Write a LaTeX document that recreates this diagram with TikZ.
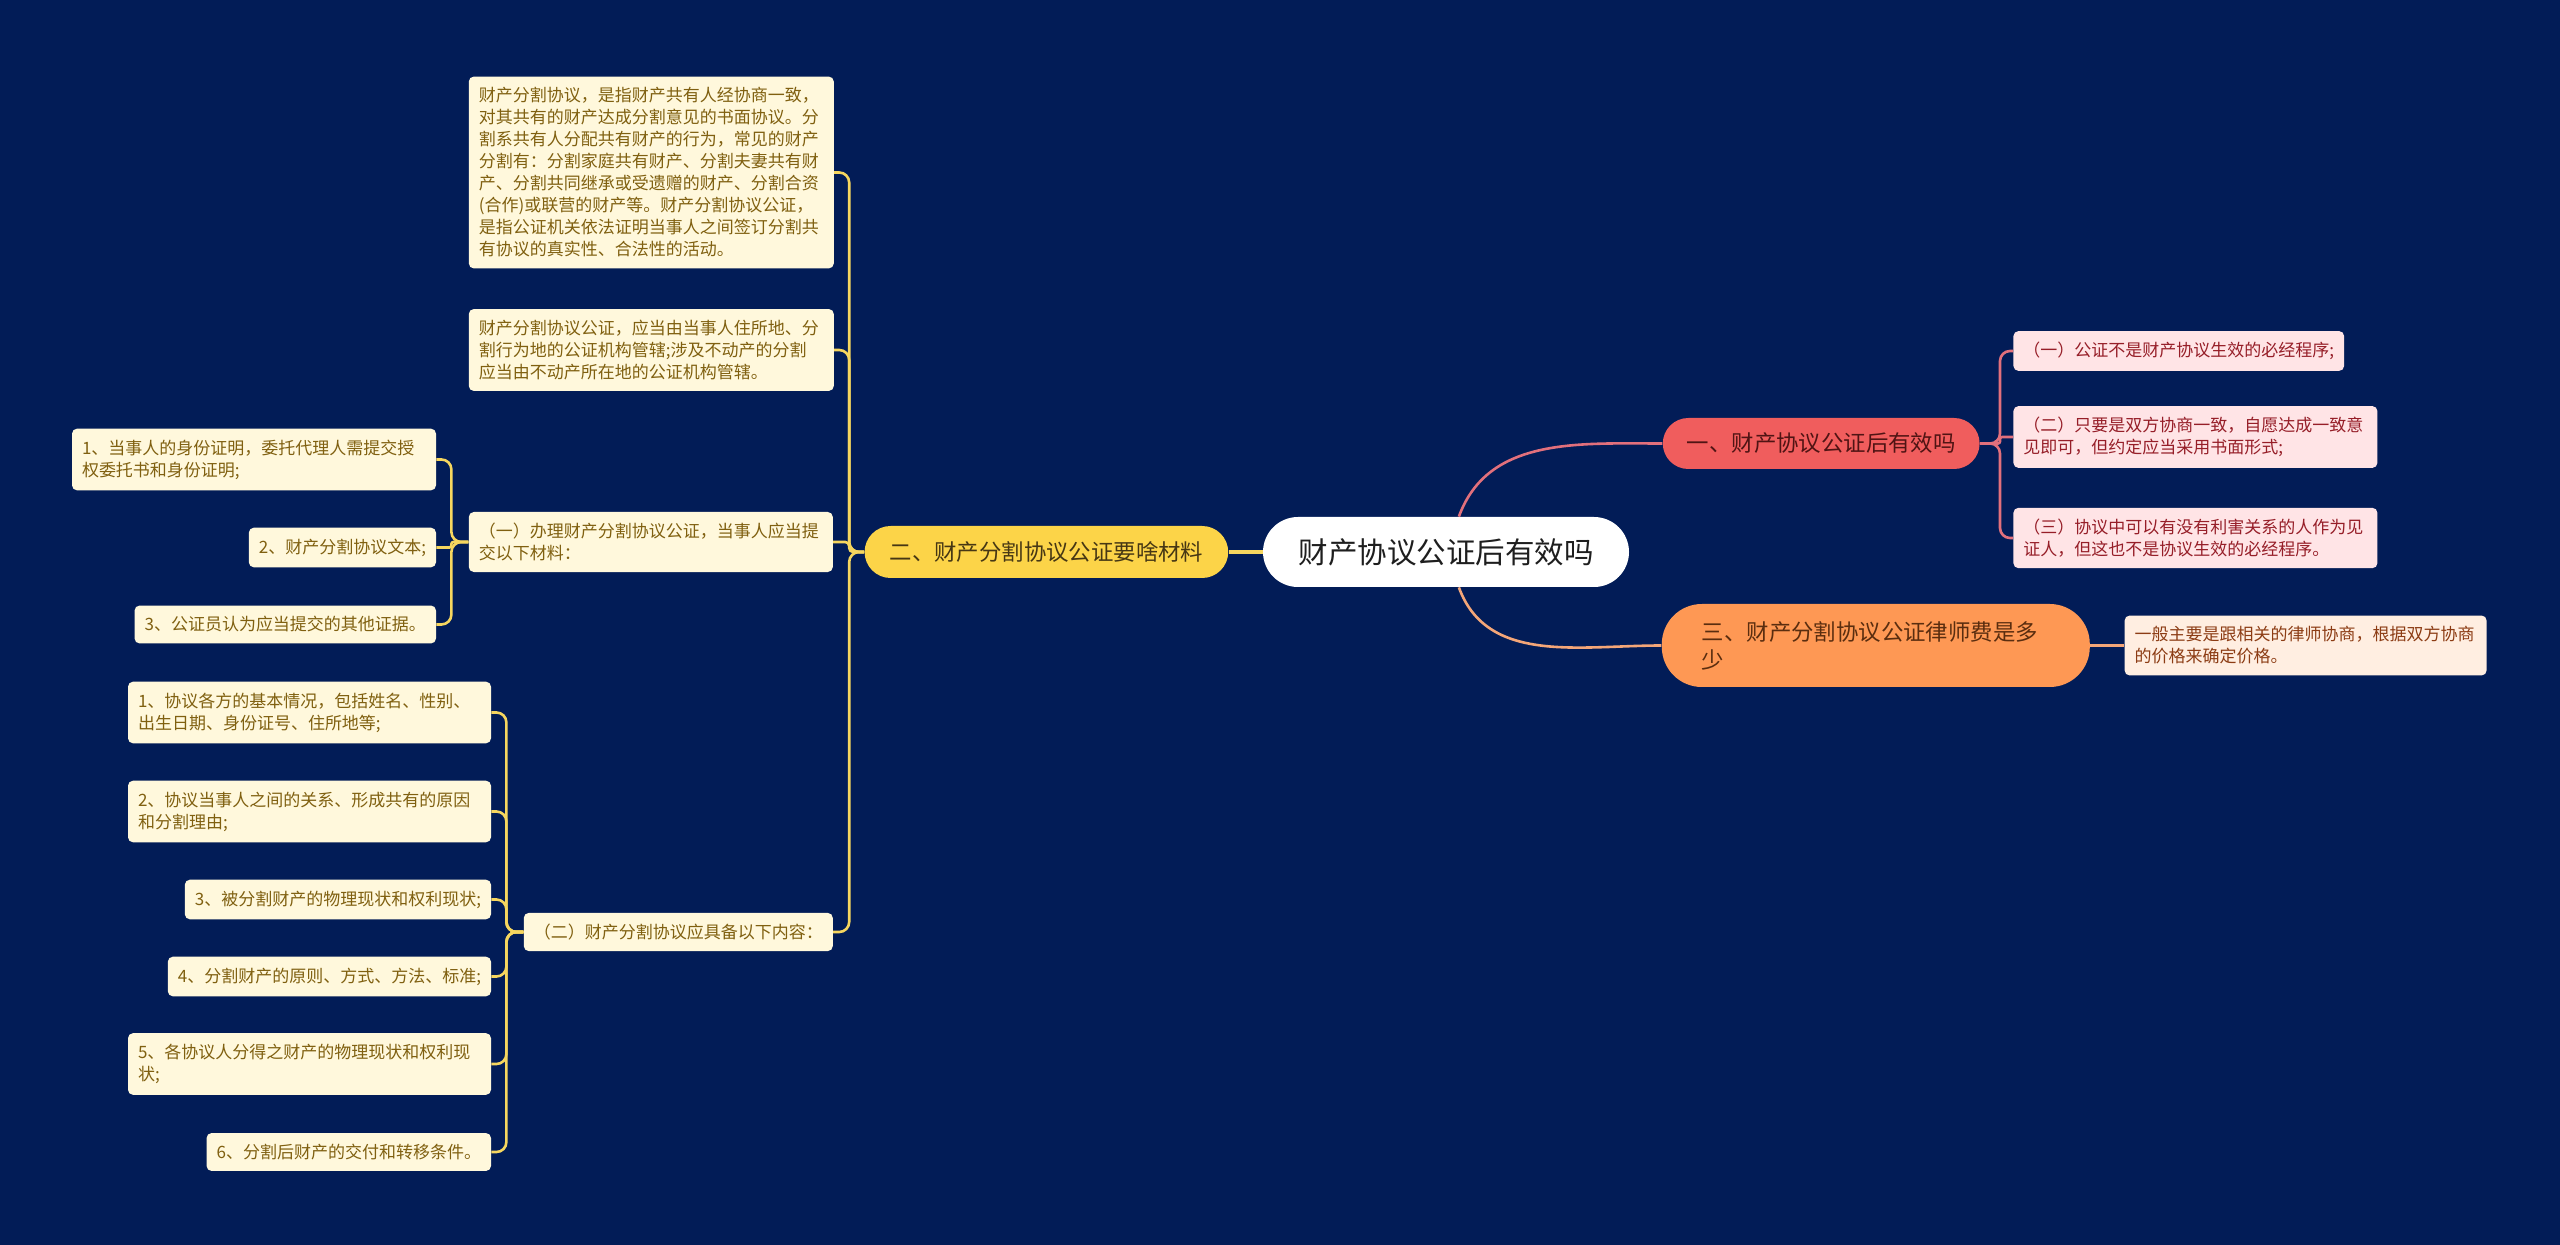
\documentclass[tikz,border=0pt]{standalone}
\usepackage{fontspec}
\setmainfont{Noto Sans CJK SC}
\usetikzlibrary{positioning}

\definecolor{navybg}{RGB}{2,28,87}
\definecolor{roottext}{RGB}{30,30,30}
\definecolor{yfill}{RGB}{252,212,72}
\definecolor{ytext}{RGB}{70,55,20}
\definecolor{yline}{RGB}{246,214,95}
\definecolor{yleaffill}{RGB}{255,248,220}
\definecolor{yleaftext}{RGB}{128,96,16}
\definecolor{rfill}{RGB}{240,93,93}
\definecolor{rtext}{RGB}{80,20,20}
\definecolor{rline}{RGB}{226,112,124}
\definecolor{rleaffill}{RGB}{255,228,230}
\definecolor{rleaftext}{RGB}{150,30,40}
\definecolor{ofill}{RGB}{254,152,84}
\definecolor{otext}{RGB}{90,45,15}
\definecolor{oline}{RGB}{244,166,120}
\definecolor{oleaffill}{RGB}{255,238,225}
\definecolor{oleaftext}{RGB}{140,60,20}

\begin{document}
\begin{tikzpicture}[
	topic/.style={
		rounded corners=17.5pt,
		fill=white,
		text=roottext,
		minimum height=35pt,
		inner xsep=17.75pt,
		font=\fontsize{14.75pt}{18pt}\selectfont
	},
	ybranch/.style={
		rounded corners=13pt,
		fill=yfill,
		text=ytext,
		minimum height=26pt,
		inner xsep=12.5pt,
		font=\fontsize{11.2pt}{14pt}\selectfont
	},
	rbranch/.style={
		rounded corners=12.75pt,
		fill=rfill,
		text=rtext,
		minimum height=25.5pt,
		inner xsep=12pt,
		font=\fontsize{11.2pt}{14pt}\selectfont
	},
	obranch/.style={
		rounded corners=20pt,
		fill=ofill,
		text=otext,
		minimum height=41.5pt,
		inner xsep=20pt,
		text width=174pt,
		align=left,
		font=\fontsize{11.2pt}{14pt}\selectfont
	},
	leaf/.style={
		rounded corners=2.5pt,
		inner xsep=5pt,
		inner ysep=5.5pt,
		align=left,
		font=\fontsize{8.5pt}{11pt}\selectfont
	},
	yleaf/.style={leaf, fill=yleaffill, text=yleaftext},
	rleaf/.style={leaf, fill=rleaffill, text=rleaftext},
	oleaf/.style={leaf, fill=oleaffill, text=oleaftext},
	ylink/.style={draw=yline, line width=1.3pt, rounded corners=5pt},
	rlink/.style={draw=rline, line width=1.3pt, rounded corners=5pt},
	olink/.style={draw=oline, line width=1.3pt}
	]

	\fill[navybg] (0,0) rectangle (1280pt,-622.5pt);
	\useasboundingbox (0,0) rectangle (1280pt,-622.5pt);

	% ======================
	% Central topic
	% ======================
	\node (root) [topic] at (723pt,-276pt) {财产协议公证后有效吗};

	% ======================
	% Left branch: materials
	% ======================
	\node (matbranch) [ybranch, left=17pt of root] {二、财产分割协议公证要啥材料};
	\draw[ylink, line width=2pt] (root) -- (matbranch);

	\node (defn) [yleaf, text width=172.5pt, left=15pt of matbranch, yshift=189.75pt]
	{财产分割协议，是指财产共有人经协商一致，\\对其共有的财产达成分割意见的书面协议。分\\割系共有人分配共有财产的行为，常见的财产\\分割有：分割家庭共有财产、分割夫妻共有财\\产、分割共同继承或受遗赠的财产、分割合资\\(合作)或联营的财产等。财产分割协议公证，\\是指公证机关依法证明当事人之间签订分割共\\有协议的真实性、合法性的活动。};
	\node (juris) [yleaf, text width=172.5pt, left=15pt of matbranch, yshift=101pt]
	{财产分割协议公证，应当由当事人住所地、分\\割行为地的公证机构管辖;涉及不动产的分割\\应当由不动产所在地的公证机构管辖。};
	\node (submit) [yleaf, text width=172pt, left=15.5pt of matbranch, yshift=5pt]
	{（一）办理财产分割协议公证，当事人应当提\\交以下材料：};
	\node (content) [yleaf, left=15.5pt of matbranch, yshift=-190pt]
	{（二）财产分割协议应具备以下内容：};

	\draw[ylink] (matbranch.west) -- ++(-7.5pt,0) |- (defn.east);
	\draw[ylink] (matbranch.west) -- ++(-7.5pt,0) |- (juris.east);
	\draw[ylink, rounded corners=2pt] (matbranch.west) -- ++(-7.5pt,0) |- (submit.east);
	\draw[ylink] (matbranch.west) -- ++(-7.5pt,0) |- (content.east);

	% (一) materials
	\node (idproof) [yleaf, text width=172pt, left=16pt of submit, yshift=41.25pt]
	{1、当事人的身份证明，委托代理人需提交授\\权委托书和身份证明;};
	\node (agrtext) [yleaf, left=16pt of submit, yshift=-2.75pt] {2、财产分割协议文本;};
	\node (otherev) [yleaf, left=16pt of submit, yshift=-41.25pt] {3、公证员认为应当提交的其他证据。};

	\draw[ylink] (submit.west) -- ++(-8.5pt,0) |- (idproof.east);
	\draw[ylink, rounded corners=1pt] (submit.west) -- ++(-8.5pt,0) |- (agrtext.east);
	\draw[ylink] (submit.west) -- ++(-8.5pt,0) |- (otherev.east);

	% (二) contents
	\node (parties) [yleaf, text width=171.5pt, left=16pt of content, yshift=109.75pt]
	{1、协议各方的基本情况，包括姓名、性别、\\出生日期、身份证号、住所地等;};
	\node (relation) [yleaf, text width=171.5pt, left=16pt of content, yshift=60.25pt]
	{2、协议当事人之间的关系、形成共有的原因\\和分割理由;};
	\node (status) [yleaf, left=16pt of content, yshift=16.25pt] {3、被分割财产的物理现状和权利现状;};
	\node (rules) [yleaf, left=16pt of content, yshift=-22.25pt] {4、分割财产的原则、方式、方法、标准;};
	\node (shares) [yleaf, text width=171.5pt, left=16pt of content, yshift=-66pt]
	{5、各协议人分得之财产的物理现状和权利现\\状;};
	\node (delivery) [yleaf, left=16pt of content, yshift=-110pt] {6、分割后财产的交付和转移条件。};

	\draw[ylink] (content.west) -- ++(-8.5pt,0) |- (parties.east);
	\draw[ylink] (content.west) -- ++(-8.5pt,0) |- (relation.east);
	\draw[ylink] (content.west) -- ++(-8.5pt,0) |- (status.east);
	\draw[ylink] (content.west) -- ++(-8.5pt,0) |- (rules.east);
	\draw[ylink] (content.west) -- ++(-8.5pt,0) |- (shares.east);
	\draw[ylink] (content.west) -- ++(-8.5pt,0) |- (delivery.east);

	% ======================
	% Right branch: validity
	% ======================
	\node (effbranch) [rbranch, right=16.5pt of root, yshift=54.25pt] {一、财产协议公证后有效吗};
	\draw[rlink] (root) to[out=70, in=180] (effbranch);

	\node (notreq) [rleaf, right=16.5pt of effbranch, yshift=46.25pt] {（一）公证不是财产协议生效的必经程序;};
	\node (consent) [rleaf, text width=172pt, right=16.5pt of effbranch, yshift=3.25pt]
	{（二）只要是双方协商一致，自愿达成一致意\\见即可，但约定应当采用书面形式;};
	\node (witness) [rleaf, text width=172pt, right=16.5pt of effbranch, yshift=-47.25pt]
	{（三）协议中可以有没有利害关系的人作为见\\证人，但这也不是协议生效的必经程序。};

	\draw[rlink] (effbranch.east) -- ++(10pt,0) |- (notreq.west);
	\draw[rlink, rounded corners=1pt] (effbranch.east) -- ++(10pt,0) |- (consent.west);
	\draw[rlink] (effbranch.east) -- ++(10pt,0) |- (witness.west);

	% ======================
	% Right branch: fee
	% ======================
	\node (feebranch) [obranch, right=16pt of root, yshift=-46.75pt] {三、财产分割协议公证律师费是多\\少};
	\draw[olink] (root) to[out=-70, in=180] (feebranch);

	\node (feeleaf) [oleaf, text width=171pt, right=17pt of feebranch]
	{一般主要是跟相关的律师协商，根据双方协商\\的价格来确定价格。};
	\draw[olink] (feebranch) -- (feeleaf);

\end{tikzpicture}
\end{document}
